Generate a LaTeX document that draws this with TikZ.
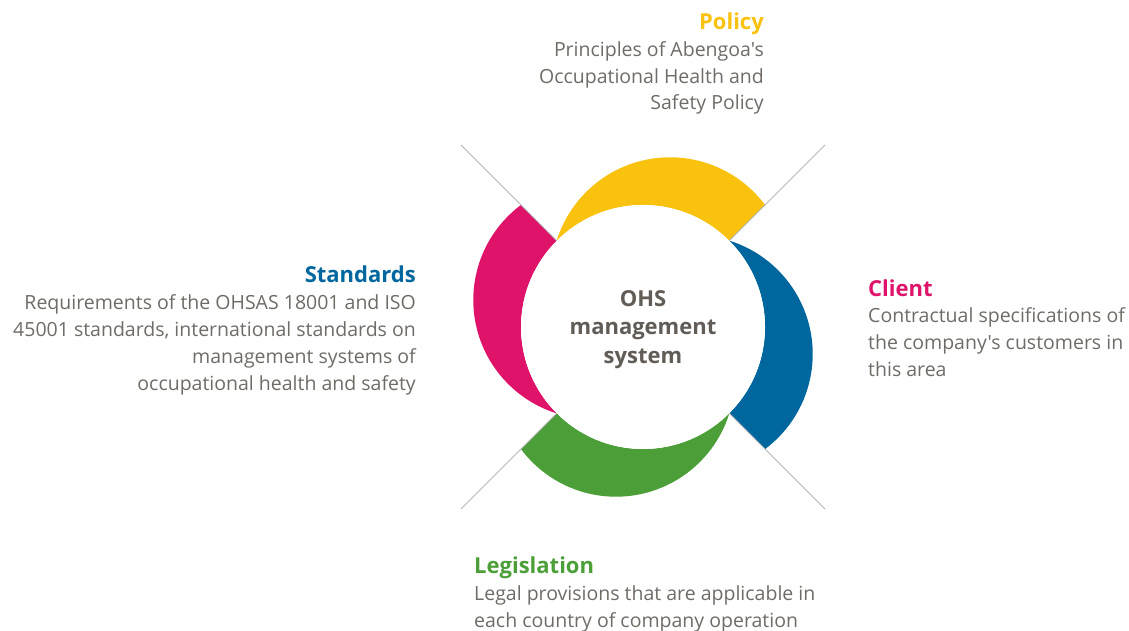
\documentclass[tikz,border=0pt]{standalone}
\usepackage{fontspec}
\setmainfont{Open Sans}[Ligatures=TeXOff]
\definecolor{cyellow}{HTML}{F9C20F}
\definecolor{cblue}{HTML}{00679E}
\definecolor{cpink}{HTML}{E0136B}
\definecolor{cgreen}{HTML}{4C9F38}
\definecolor{ctext}{HTML}{6F6B66}
\definecolor{ccenter}{HTML}{625C57}
\definecolor{cline}{HTML}{B4B4B4}
\tikzset{
  bodytext/.style={inner sep=0pt, text=ctext, font=\fontsize{19.5}{26.7}\selectfont},
  titletext/.style={inner sep=0pt, font=\fontsize{22}{26.7}\selectfont\bfseries},
  diag/.style={draw=cline, line width=0.9pt},
  crescent/.style={even odd rule},
}
\begin{document}
\begin{tikzpicture}[x=1pt,y=-1pt]
\useasboundingbox (0,0) rectangle (1129,631);
\coordinate (C) at (643,327);
% diagonal line ends
\coordinate (ul) at (461,145);
\coordinate (ur) at (825,145);
\coordinate (ll) at (461,509);
\coordinate (lr) at (825,509);
% crescents
\begin{scope}
  \clip (C) -- ++(300,-300) -- ++(-600,0) -- cycle;
  \fill[cyellow, crescent] (670,276) circle (118.7pt) (C) circle (122pt);
\end{scope}
\begin{scope}
  \clip (C) -- ++(-300,-300) -- ++(0,600) -- cycle;
  \fill[cpink, crescent] (592,300) circle (118.7pt) (C) circle (122pt);
\end{scope}
\begin{scope}
  \clip (C) -- ++(300,-300) -- ++(0,600) -- cycle;
  \fill[cblue, crescent] (694,354) circle (118.7pt) (C) circle (122pt);
\end{scope}
\begin{scope}
  \clip (C) -- ++(300,300) -- ++(-600,0) -- cycle;
  \fill[cgreen, crescent] (616,378) circle (118.7pt) (C) circle (122pt);
\end{scope}
% center node
\node[circle, fill=white, minimum size=244pt, inner sep=0pt] (ohs) at (C) {};
\draw[diag] (ul) -- (ohs.north west);
\draw[diag] (ur) -- (ohs.north east);
\draw[diag] (ll) -- (ohs.south west);
\draw[diag] (lr) -- (ohs.south east);
\node[inner sep=0pt, text=ccenter, align=center, anchor=base, font=\fontsize{22}{28.5}\selectfont\bfseries] (ctext) at (643,363) {OHS\\management\\system};
% text blocks
\node[titletext, text=cyellow, anchor=base east] (pol) at (764,30) {Policy};
\node[bodytext, align=right, anchor=base east] (polb) at (764,110) {Principles of Abengoa's\\Occupational Health and\\Safety Policy};
\node[titletext, text=cblue, anchor=base east] (std) at (416,282) {Standards};
\node[bodytext, align=right, anchor=base east] (stdb) at (416,390) {Requirements of the OHSAS 18001 and ISO\\45001 standards, international standards on\\management systems of\\occupational health and safety};
\node[titletext, text=cpink, anchor=base west] (cli) at (868,296) {Client};
\node[bodytext, align=left, anchor=base west] (clib) at (868,376) {Contractual specifications of\\the company's customers in\\this area};
\node[titletext, text=cgreen, anchor=base west] (leg) at (474,573) {Legislation};
\node[bodytext, align=left, anchor=base west] (legb) at (474,627) {Legal provisions that are applicable in\\each country of company operation};
\end{tikzpicture}
\end{document}
